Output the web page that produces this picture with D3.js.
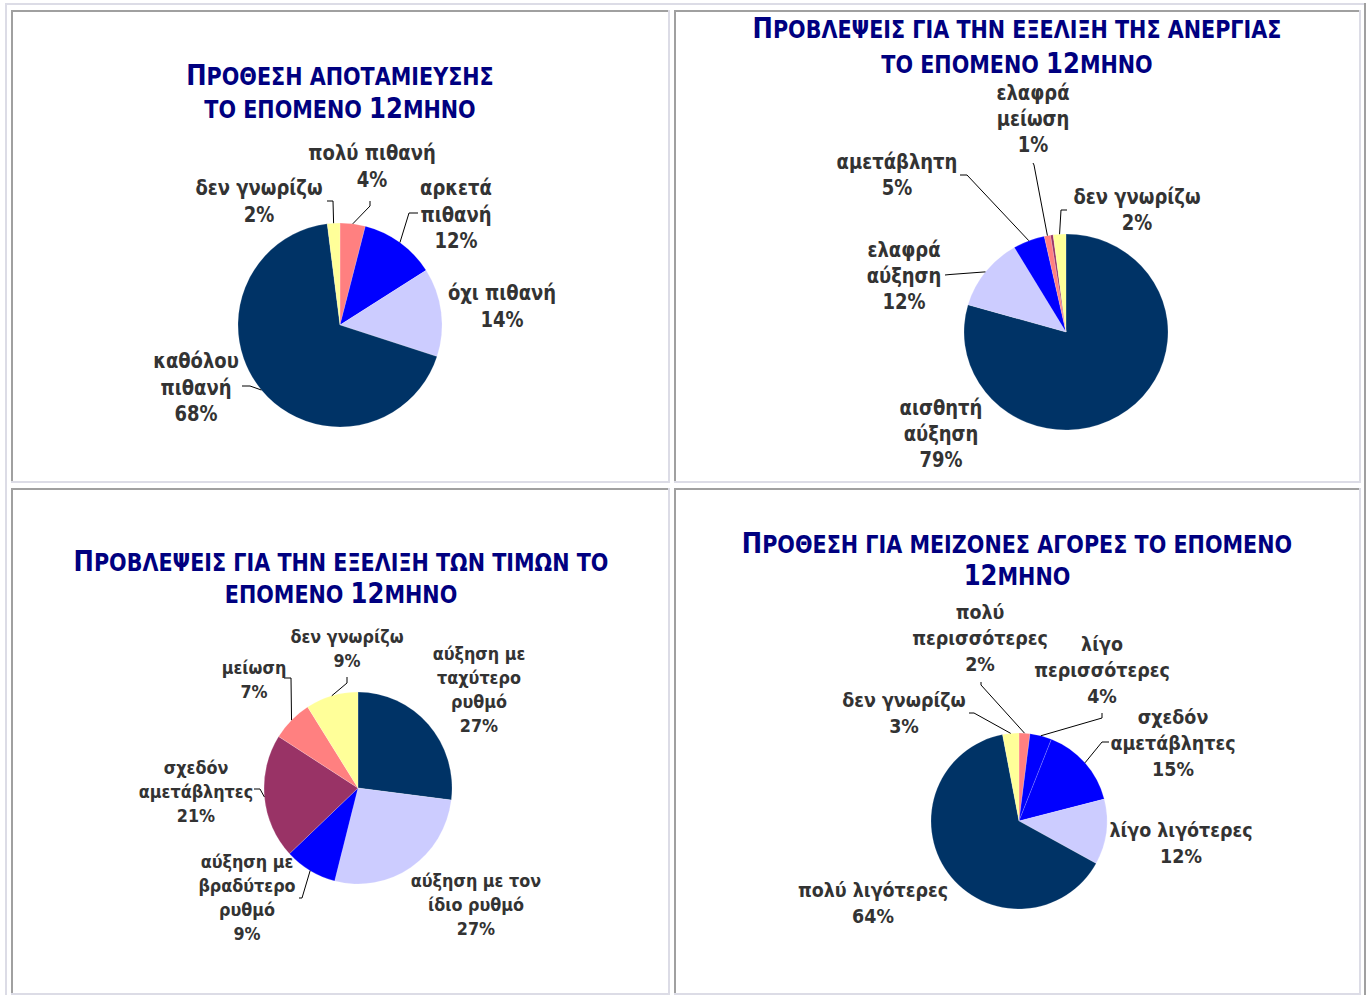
<!DOCTYPE html>
<html><head><meta charset="utf-8">
<script src="https://cdn.jsdelivr.net/npm/d3@7"></script>
<style>body{margin:0;background:#fff}svg{display:block}</style>
</head><body>
<svg id="c" width="1366" height="995"></svg>
<script>
// ---------- DATA ----------
const savingTitle = ["ΠΡΟΘΕΣΗ ΑΠΟΤΑΜΙΕΥΣΗΣ", "ΤΟ ΕΠΟΜΕΝΟ 12ΜΗΝΟ"];
const savingCategories = ["πολύ πιθανή", "αρκετά\nπιθανή", "όχι πιθανή", "καθόλου\nπιθανή", "δεν γνωρίζω"];
const savingValues = [4, 12, 14, 68, 2];

const unemploymentTitle = ["ΠΡΟΒΛΕΨΕΙΣ ΓΙΑ ΤΗΝ ΕΞΕΛΙΞΗ ΤΗΣ ΑΝΕΡΓΙΑΣ", "ΤΟ ΕΠΟΜΕΝΟ 12ΜΗΝΟ"];
const unemploymentCategories = ["αισθητή\nαύξηση", "ελαφρά\nαύξηση", "αμετάβλητη", "ελαφρά\nμείωση", "σημαντική μείωση", "δεν γνωρίζω"];
const unemploymentValues = [79, 12, 5, 1, 0.4, 2];

const pricesTitle = ["ΠΡΟΒΛΕΨΕΙΣ ΓΙΑ ΤΗΝ ΕΞΕΛΙΞΗ ΤΩΝ ΤΙΜΩΝ ΤΟ", "ΕΠΟΜΕΝΟ 12ΜΗΝΟ"];
const pricesCategories = ["αύξηση με\nταχύτερο\nρυθμό", "αύξηση με τον\nίδιο ρυθμό", "αύξηση με\nβραδύτερο\nρυθμό", "σχεδόν\nαμετάβλητες", "μείωση", "δεν γνωρίζω"];
const pricesValues = [27, 27, 9, 21, 7, 9];

const purchasesTitle = ["ΠΡΟΘΕΣΗ ΓΙΑ ΜΕΙΖΟΝΕΣ ΑΓΟΡΕΣ ΤΟ ΕΠΟΜΕΝΟ", "12ΜΗΝΟ"];
const purchasesCategories = ["πολύ\nπερισσότερες", "λίγο\nπερισσότερες", "σχεδόν\nαμετάβλητες", "λίγο λιγότερες", "πολύ λιγότερες", "δεν γνωρίζω"];
const purchasesValues = [2, 4, 15, 12, 64, 3];

// ---------- STYLE / LAYOUT ----------
const NAVY = "#003366", LAV = "#CCCCFF", BLUE = "#0000FF", PINK = "#FF8080", YEL = "#FFFF99", PURP = "#993366";

const charts = [
  { title: savingTitle, cats: savingCategories, vals: savingValues,
    colors: [PINK, BLUE, LAV, NAVY, YEL],
    cx: 340, cy: 325, rx: 102, ry: 102, tx: 340, ty: [85, 118], fs: 18, lh: 26.5,
    labels: [
      { x: 32, y: -172, leader: [[30, -124], [30, -119]] },
      { x: 116, y: -137, leader: [[78, -112], [69, -112]] },
      { x: 162, y: -32 },
      { x: -144, y: 36, leader: [[-98, 61], [-90, 61]] },
      { x: -81, y: -137, leader: [[-13, -124], [-7, -124]] }
    ] },
  { title: unemploymentTitle, cats: unemploymentCategories, vals: unemploymentValues,
    colors: [NAVY, LAV, BLUE, PINK, PURP, YEL],
    cx: 1066, cy: 332, rx: 102, ry: 98, tx: 1017, ty: [38, 72.5], fs: 18, lh: 26,
    labels: [
      { x: -125, y: 76 },
      { x: -162, y: -82, leader: [[-121, -57], [-116, -57.5]] },
      { x: -169, y: -170, leader: [[-106, -157], [-99, -157]] },
      { x: -33, y: -239, leader: [[-33, -169], [-32, -167]] },
      null,
      { x: 71, y: -135, leader: [[1, -122], [-5, -122]] }
    ] },
  { title: pricesTitle, cats: pricesCategories, vals: pricesValues,
    colors: [NAVY, LAV, BLUE, PURP, PINK, YEL],
    cx: 358, cy: 788, rx: 94, ry: 96, tx: 341, ty: [571, 603], fs: 16, lh: 23.7, clipY: 940,
    labels: [
      { x: 121, y: -134 },
      { x: 118, y: 93 },
      { x: -111, y: 74, leader: [[-59, 110], [-56, 110]] },
      { x: -162, y: -20, leader: [[-104, 1], [-98, 1]] },
      { x: -104, y: -120, leader: [[-74, -110], [-67, -110]] },
      { x: -11, y: -151, leader: [[-11, -111], [-11, -105]] }
    ] },
  { title: purchasesTitle, cats: purchasesCategories, vals: purchasesValues,
    colors: [PINK, BLUE, BLUE, LAV, NAVY, YEL],
    cx: 1019, cy: 821, rx: 88, ry: 88, tx: 1017, ty: [553, 585], fs: 17.5, lh: 26,
    labels: [
      { x: -39, y: -209, leader: [[-38, -139], [-38, -136]] },
      { x: 83, y: -177, leader: [[83, -108], [83, -103]] },
      { x: 154, y: -104, leader: [[90, -79], [83, -79]] },
      { x: 162, y: 9 },
      { x: -146, y: 69 },
      { x: -115, y: -121, leader: [[-50, -108], [-45, -108]] }
    ] }
];

const svg = d3.select("#c");
const LIGHT = "#dcdce6", DARK = "#a0a0a0";
const STRETCH = 1.13; // vertical stretch of label glyphs

function hline(x1, x2, y, c) { svg.append("rect").attr("x", x1).attr("y", y).attr("width", x2 - x1).attr("height", 2).attr("fill", c); }
function vline(x, y1, y2, c) { svg.append("rect").attr("x", x).attr("y", y1).attr("width", 2).attr("height", y2 - y1).attr("fill", c); }
hline(5, 1366, 3, LIGHT); vline(5, 3, 995, LIGHT); vline(1364, 3, 995, DARK);
const cells = [[11, 10, 670, 483], [674, 10, 1361, 483], [11, 488, 670, 995], [674, 488, 1361, 995]];
cells.forEach(([x1, y1, x2, y2]) => {
  vline(x2 - 2, y1, y2, LIGHT); hline(x1, x2, y2 - 2, LIGHT);
  hline(x1, x2 - 2, y1, DARK); vline(x1, y1, y2 - 2, DARK);
});

const defs = svg.append("defs");

charts.forEach((ch, ci) => {
  const root = svg.append("g");
  if (ch.clipY) {
    defs.append("clipPath").attr("id", "clip" + ci).append("rect")
      .attr("x", 0).attr("y", 0).attr("width", 1366).attr("height", ch.clipY);
    root.attr("clip-path", `url(#clip${ci})`);
  }
  // title
  ch.title.forEach((line, li) => {
    const t = root.append("text").attr("text-anchor", "middle")
      .attr("transform", `translate(${ch.tx},${ch.ty[li]}) scale(1,1.05)`)
      .attr("font-family", "'DejaVu Sans Condensed','DejaVu Sans',sans-serif")
      .attr("font-stretch", "condensed").attr("font-weight", "bold").attr("fill", "#000080");
    const segs = line.split(/(\d+)/).filter(s => s.length);
    segs.forEach((s, si) => {
      let parts = [];
      if (li === 0 && si === 0) { parts.push([s[0], true]); if (s.length > 1) parts.push([s.slice(1), false]); }
      else parts.push([s, /^\d+$/.test(s)]);
      parts.forEach(([txt, big]) => t.append("tspan").text(txt).attr("font-size", big ? 27 : 23));
    });
  });

  const data = ch.cats.map((c, i) => ({ cat: c, v: ch.vals[i], color: ch.colors[i], lab: ch.labels[i] }));
  const pie = d3.pie().sort(null).value(d => d.v).startAngle(0).endAngle(2 * Math.PI);
  const arcs = pie(data);
  const arc = d3.arc().innerRadius(0).outerRadius(ch.rx);
  const pg = root.append("g").attr("transform", `translate(${ch.cx},${ch.cy}) scale(1,${ch.ry / ch.rx})`);
  pg.selectAll("path").data(arcs).join("path")
    .attr("d", arc).attr("fill", d => d.data.color)
    .attr("stroke", "#ffffff").attr("stroke-opacity", 0.35).attr("stroke-width", 0.5);

  const lg = root.append("g").attr("transform", `translate(${ch.cx},${ch.cy})`);
  arcs.forEach(a => {
    const L = a.data.lab;
    if (!L) return;
    if (L.leader) {
      const m = (a.startAngle + a.endAngle) / 2;
      const end = [ch.rx * Math.sin(m), -ch.ry * Math.cos(m)];
      lg.append("polyline").attr("points", [...L.leader, end].map(p => p.join(",")).join(" "))
        .attr("fill", "none").attr("stroke", "#000").attr("stroke-width", 1);
    }
    const lines = a.data.cat.split("\n").concat([Math.round(a.data.v) + "%"]);
    lines.forEach((ln, i) => {
      lg.append("text").attr("text-anchor", "middle")
        .attr("transform", `translate(${L.x},${L.y + i * ch.lh + ch.fs * 0.4}) scale(1,${STRETCH})`)
        .attr("font-family", "'DejaVu Sans',Verdana,sans-serif").attr("font-weight", "bold")
        .attr("font-size", ch.fs).attr("fill", "#333333").text(ln);
    });
  });
});
</script>
</body></html>
